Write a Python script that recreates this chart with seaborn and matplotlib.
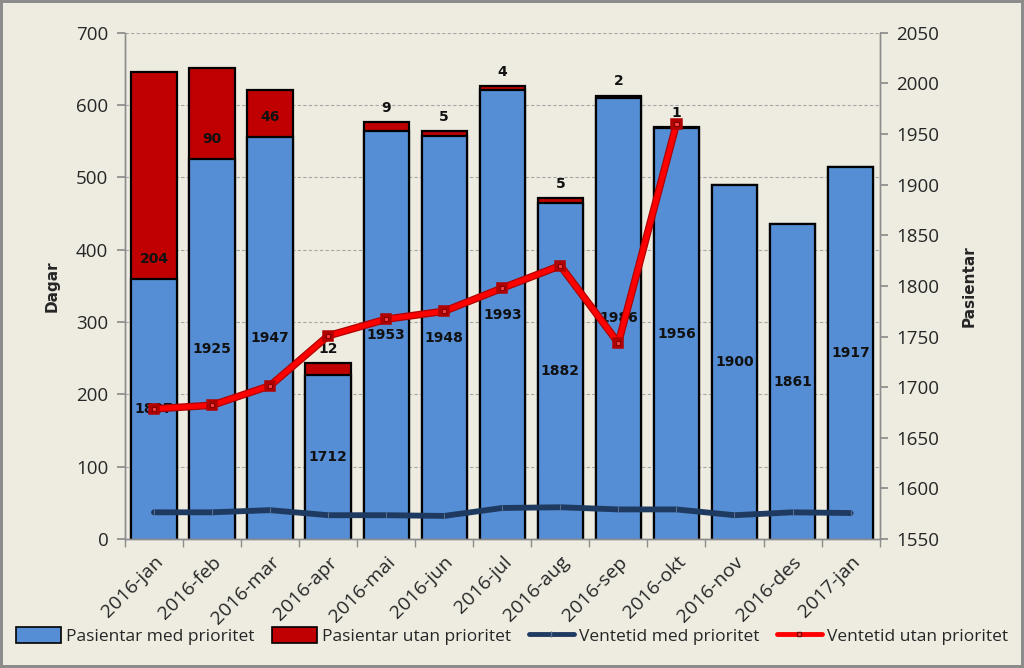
import numpy as np
import matplotlib
matplotlib.use("Agg")
import matplotlib.pyplot as plt
import matplotlib.patheffects as pe
from matplotlib.patches import Patch
from matplotlib.lines import Line2D
import seaborn as sns

# Data
months = ["2016-jan", "2016-feb", "2016-mar", "2016-apr", "2016-mai", "2016-jun",
          "2016-jul", "2016-aug", "2016-sep", "2016-okt", "2016-nov", "2016-des", "2017-jan"]
med_prioritet = [1807, 1925, 1947, 1712, 1953, 1948, 1993, 1882, 1986, 1956, 1900, 1861, 1917]
utan_prioritet = [204, 90, 46, 12, 9, 5, 4, 5, 2, 1, 0, 0, 0]
ventetid_med = [37, 37, 40, 33, 33, 32, 43, 44, 41, 41, 33, 37, 36]
ventetid_utan = [180, 185, 212, 281, 304, 315, 347, 378, 271, 574]  # stops at 2016-okt

BG = "#EEECE1"
BLUE = "#558ED5"
DARKRED = "#C00000"
NAVY = "#1F3A60"
GREY = "#8C8C8C"

sns.set_theme(style="ticks")
plt.rcParams["font.family"] = ["Open Sans", "DejaVu Sans"]

fig = plt.figure(figsize=(10.24, 6.68), dpi=100, facecolor=BG, edgecolor=GREY, linewidth=4)
ax = fig.add_subplot(111)
ax2 = ax.twinx()
fig.subplots_adjust(left=0.122, right=0.859, top=0.951, bottom=0.193)

# bars on the right axis (Pasientar)
total = [m + u for m, u in zip(med_prioritet, utan_prioritet)]
sns.barplot(x=months, y=total, color=DARKRED, saturation=1, width=0.78,
            edgecolor="black", linewidth=1.6, ax=ax2)
sns.barplot(x=months, y=med_prioritet, color=BLUE, saturation=1, width=0.78,
            edgecolor="black", linewidth=1.6, ax=ax2)
ax2.set_ylim(1550, 2050)
ax2.set_yticks(np.arange(1550, 2051, 50))

# dashed grid lines at the left-axis ticks
for t in range(100, 701, 100):
    ax2.axhline(1550 + t * 500 / 700, color="#A6A6A6", lw=0.8, ls=(0, (3, 2)), zorder=0)

# data labels
lab = dict(ha="center", va="center", fontsize=10, fontweight="bold",
           color="#111111", family="DejaVu Sans")
for i, (m, u) in enumerate(zip(med_prioritet, utan_prioritet)):
    ax2.text(i, (1550 + m) / 2, str(m), **lab)
    if u >= 40:
        ax2.text(i, m + 20, str(u), **lab)
    elif u > 0:
        ax2.text(i, m + u + 14, str(u), **lab)

# lines on the left axis (Dagar)
sns.lineplot(x=np.arange(len(ventetid_med)), y=ventetid_med, color=NAVY, lw=4.2,
             marker="|", markersize=4, markeredgecolor="#5A7090", ax=ax)
sns.lineplot(x=np.arange(len(ventetid_utan)), y=ventetid_utan, color="#FF0000", lw=3.6,
             marker="s", markersize=3, markerfacecolor="#FF4040", markeredgecolor="#800000",
             markeredgewidth=0.8, ax=ax,
             path_effects=[pe.Stroke(linewidth=5.4, foreground="#B00000"), pe.Normal()])
ax.set_ylim(0, 700)
ax.set_yticks(np.arange(0, 701, 100))
ax.set_xlim(-0.5, len(months) - 0.5)

ax.set_zorder(ax2.get_zorder() + 1)
ax.patch.set_visible(False)
ax2.patch.set_facecolor(BG)

# x axis: labels at centres, tick marks between categories
ax.set_xticks(np.arange(len(months)))
ax.set_xticklabels(months, rotation=45, ha="right", rotation_mode="anchor", fontsize=14)
ax.tick_params(axis="x", which="major", length=0, pad=10)
ax.set_xticks(np.arange(-0.5, len(months), 1), minor=True)
ax.tick_params(axis="x", which="minor", length=6, color=GREY, direction="out")
ax2.tick_params(axis="x", length=0)
ax.set_xlabel("")
ax2.set_xlabel("")

ax.tick_params(axis="y", labelsize=13.5, length=6, color=GREY, pad=6)
ax2.tick_params(axis="y", labelsize=13.5, length=6, color=GREY, pad=6)

for a in (ax, ax2):
    a.spines["top"].set_visible(False)
    for side in ("left", "right", "bottom"):
        a.spines[side].set_color(GREY)
        a.spines[side].set_linewidth(1)

ax.set_ylabel("Dagar", fontsize=11, fontweight="bold", family="DejaVu Sans")
ax.yaxis.set_label_coords(-0.086, 0.5)
ax2.set_ylabel("Pasientar", fontsize=11, fontweight="bold", family="DejaVu Sans")
ax2.yaxis.set_label_coords(1.109, 0.5)

handles = [
    Patch(facecolor=BLUE, edgecolor="black", linewidth=1.2),
    Patch(facecolor=DARKRED, edgecolor="black", linewidth=1.2),
    Line2D([], [], color=NAVY, lw=3.5, marker="|", markersize=4, markeredgecolor="#5A7090"),
    Line2D([], [], color="#FF0000", lw=3.5, marker="s", markersize=3,
           markerfacecolor="#FF4040", markeredgecolor="#800000"),
]
labels = ["Pasientar med prioritet", "Pasientar utan prioritet",
          "Ventetid med prioritet", "Ventetid utan prioritet"]
fig.legend(handles, labels, loc="center", bbox_to_anchor=(0.5, 0.048), ncol=4,
           frameon=False, fontsize=12.5, handlelength=2.6, handleheight=1.0,
           columnspacing=1.0, handletextpad=0.3)

fig.savefig("out.png", dpi=100, facecolor=fig.get_facecolor(), edgecolor=fig.get_edgecolor())
